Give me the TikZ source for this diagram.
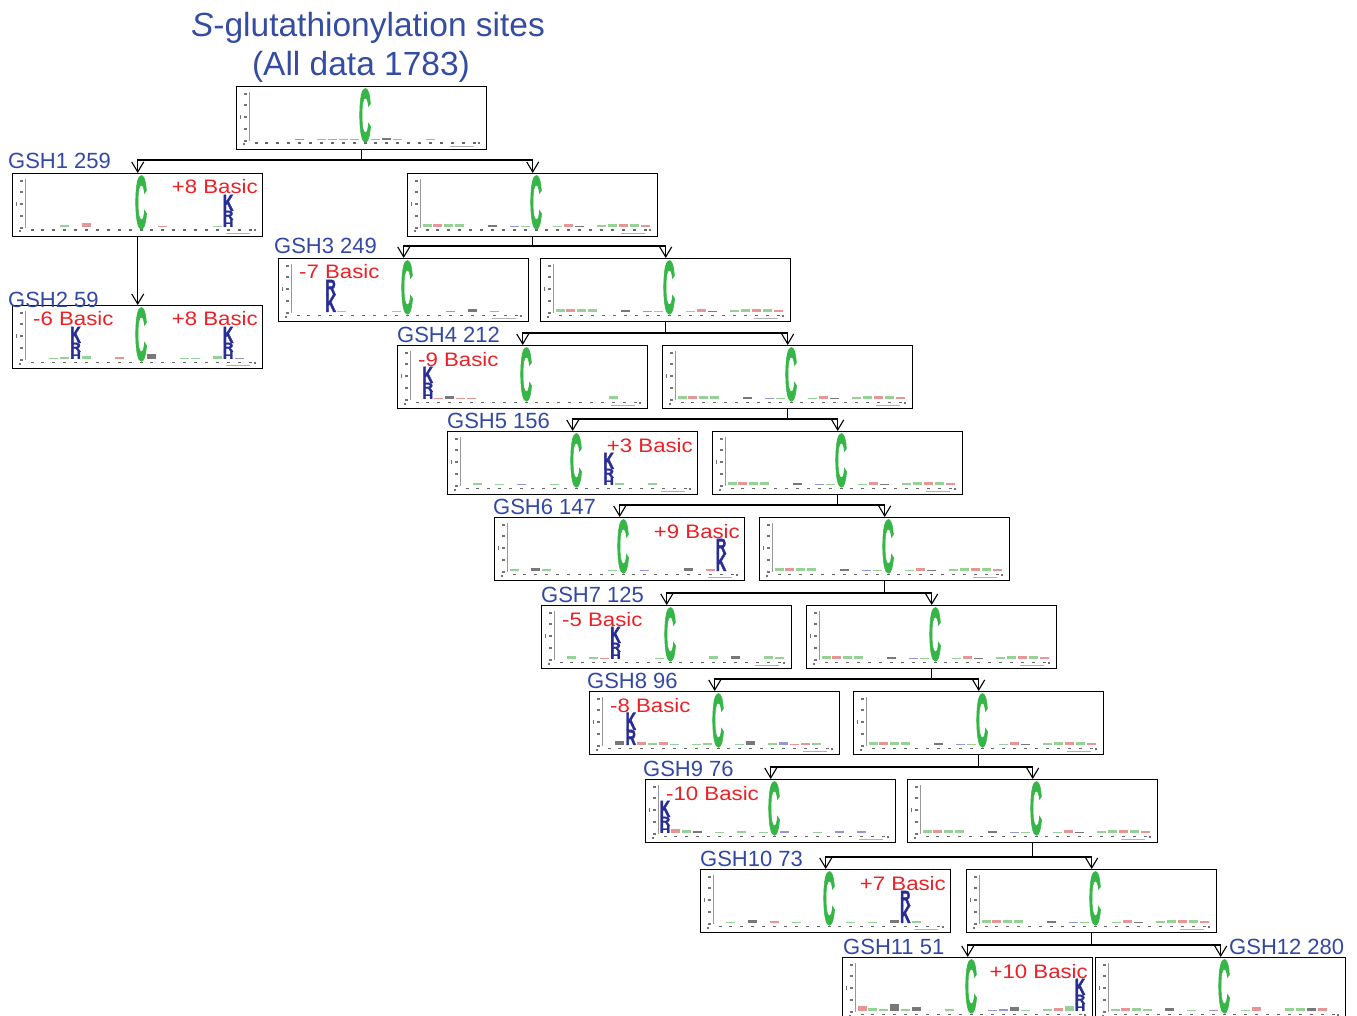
\documentclass[tikz,border=0pt]{standalone}
\usepackage{fontspec}
\setmainfont{Liberation Sans}
\newfontfamily\logofont{Liberation Sans}[FakeBold=2.5]
\usepackage{graphicx}
\usetikzlibrary{arrows.meta}

\definecolor{ttl}{RGB}{52,76,162}
\definecolor{lblue}{RGB}{50,72,165}
\definecolor{bred}{RGB}{236,32,38}
\definecolor{cgreen}{RGB}{55,182,72}
\definecolor{kblue}{RGB}{40,45,150}
\definecolor{bg}{RGB}{150,210,150}
\definecolor{br}{RGB}{230,150,150}
\definecolor{bk}{RGB}{120,120,120}
\definecolor{bb}{RGB}{150,150,210}

\tikzset{
  logobox/.style={draw=black, line width=1.4pt, minimum width=250pt, minimum height=63pt, inner sep=0pt, anchor=north west},
  conn/.style={line width=1.1pt, draw=black},
  arr/.style={conn, -{Straight Barb[length=10pt,width=12pt]}},
  grp/.style={font=\fontsize{22}{24}\selectfont, text=lblue, anchor=base west, inner sep=0pt},
  ttlfont/.style={font=\fontsize{33.5}{35}\selectfont, text=ttl, anchor=base, inner sep=0pt},
  basic/.style={font=\fontsize{19.5}{21}\selectfont, text=bred, inner sep=0pt},
  letter/.style={inner sep=0pt, anchor=south, font=\logofont\bfseries},
}

\newcommand\lgl[5]{\node[letter,text=#1] at (#3,#4) {\resizebox{10.5pt}{#5pt}{#2}};}
\newcommand\krh[1]{\pgfmathsetmacro\lgX{129+10.9*(#1)}%
  \lgl{kblue}{H}{\lgX}{54}{7}\lgl{kblue}{R}{\lgX}{47}{9}\lgl{kblue}{K}{\lgX}{38}{16}}
\newcommand\rk[1]{\pgfmathsetmacro\lgX{129+10.9*(#1)}%
  \lgl{kblue}{K}{\lgX}{54}{17}\lgl{kblue}{R}{\lgX}{37}{15}}
\newcommand\kr[1]{\pgfmathsetmacro\lgX{129+10.9*(#1)}%
  \lgl{kblue}{R}{\lgX}{54}{15}\lgl{kblue}{K}{\lgX}{39}{17}}
\newcommand\plusl[1]{\node[basic,anchor=base east] at (246,21) {\scalebox{1.14}[1]{#1}};}
\newcommand\minusl[1]{\node[basic,anchor=base west] at (21,21) {\scalebox{1.14}[1]{#1}};}
\newcommand\logobase[1]{%
  \draw[black!40,line width=0.4pt] (13,6) -- (13,55);
  \foreach \yy in {8,19,31,43,55}{\fill[black!55] (8,\yy-0.6) rectangle (10.5,\yy+0.6);}
  \fill[black!55] (3.5,29) rectangle (5,33);
  \foreach \k in {0,...,20}{\fill[black!60] ({20+10.9*\k-1.5},56.5) rectangle ++(3,1.4);}
  \fill[black!55] (6.5,57.5) rectangle ++(2,2);
  \fill[black!55] (242,56.5) rectangle ++(2,2);
  \fill[black!30] (214,60) rectangle ++(24,0.7);
  \foreach \k/\c/\h in #1{\fill[\c] ({129+10.9*\k-4.5},{54-\h}) rectangle ++(9,\h);}
  \node[letter,text=cgreen] at (129,56) {\resizebox{12pt}{52pt}{C}};
}
\def\rightblobs{-10/bg/3,-9/br/3,-8/bg/3,-7/bg/3,-4/bk/2,-2/bb/1,-1/bg/1,2/bg/1,3/br/3,4/bk/1,6/bg/2,7/bg/3,8/br/3,9/bg/3,10/br/2}

\begin{document}
\begin{tikzpicture}[x=1pt,y=-1pt]
\useasboundingbox (0,0) rectangle (1357,1016);

% title
\node[ttlfont] (title1) at (368,37) {\textit{S}-glutathionylation sites};
\node[ttlfont] (title2) at (361,76) {(All data 1783)};

% boxes
\node[logobox] (T)   at (236,86)  {};
\node[logobox] (b1)  at (12,173)  {};
\node[logobox] (r1)  at (407,173) {};
\node[logobox] (b2)  at (12,305)  {};
\node[logobox] (b3)  at (278,258) {};
\node[logobox] (r3)  at (540,258) {};
\node[logobox] (b4)  at (397,345) {};
\node[logobox] (r4)  at (662,345) {};
\node[logobox] (b5)  at (447,431) {};
\node[logobox] (r5)  at (712,431) {};
\node[logobox] (b6)  at (494,517) {};
\node[logobox] (r6)  at (759,517) {};
\node[logobox] (b7)  at (541,605) {};
\node[logobox] (r7)  at (806,605) {};
\node[logobox] (b8)  at (589,691) {};
\node[logobox] (r8)  at (853,691) {};
\node[logobox] (b9)  at (645,779) {};
\node[logobox] (r9)  at (907,779) {};
\node[logobox] (b10) at (700,869) {};
\node[logobox] (r10) at (966,869) {};
\node[logobox] (b11) at (842,957) {};
\node[logobox] (b12) at (1095,957) {};

% logo contents
\begin{scope}[shift={(T.north west)}]
  \logobase{{-6/bb/1,-4/br/1,-3/br/1,-2/br/1,-1/br/1,1/br/1,2/bk/2,3/br/1,6/br/1}}
\end{scope}
\begin{scope}[shift={(b1.north west)}]
  \logobase{{-7/bg/2,-5/br/4,2/br/1,7/bg/1}}
  \krh{8}\plusl{+8 Basic}
\end{scope}
\begin{scope}[shift={(r1.north west)}]
  \logobase{\rightblobs}
\end{scope}
\begin{scope}[shift={(b2.north west)}]
  \logobase{{-8/bg/1,-7/bg/2,-5/bg/3,-2/br/2,1/bk/5,4/bg/1,5/bg/1,7/bg/3,9/bb/1}}
  \krh{-6}\krh{8}\minusl{-6 Basic}\plusl{+8 Basic}
\end{scope}
\begin{scope}[shift={(b3.north west)}]
  \logobase{{-6/bg/1,-1/bg/1,4/bb/1,6/bk/3,8/br/1}}
  \rk{-7}\minusl{-7 Basic}
\end{scope}
\begin{scope}[shift={(r3.north west)}]
  \logobase{\rightblobs}
\end{scope}
\begin{scope}[shift={(b4.north west)}]
  \logobase{{-8/br/1,-7/bk/3,-6/br/1,-5/br/1,8/bg/3}}
  \krh{-9}\minusl{-9 Basic}
\end{scope}
\begin{scope}[shift={(r4.north west)}]
  \logobase{\rightblobs}
\end{scope}
\begin{scope}[shift={(b5.north west)}]
  \logobase{{-9/bg/2,-7/bg/1,-5/bb/1,-2/bg/1,4/bg/2,7/bg/2}}
  \krh{3}\plusl{+3 Basic}
\end{scope}
\begin{scope}[shift={(r5.north west)}]
  \logobase{\rightblobs}
\end{scope}
\begin{scope}[shift={(b6.north west)}]
  \logobase{{-10/bg/2,-8/bk/3,-7/bg/2,-1/bg/1,2/bb/1,6/bk/3,8/br/2}}
  \rk{9}\plusl{+9 Basic}
\end{scope}
\begin{scope}[shift={(r6.north west)}]
  \logobase{\rightblobs}
\end{scope}
\begin{scope}[shift={(b7.north west)}]
  \logobase{{-9/bg/3,-7/bg/2,-6/br/1,-1/bg/1,4/bg/3,6/bk/3,9/bg/3,10/bg/2}}
  \krh{-5}\minusl{-5 Basic}
\end{scope}
\begin{scope}[shift={(r7.north west)}]
  \logobase{\rightblobs}
\end{scope}
\begin{scope}[shift={(b8.north west)}]
  \logobase{{-9/bk/4,-7/br/3,-6/bg/2,-5/br/3,-4/bg/1,-2/bg/1,-1/bg/2,2/bg/1,3/bk/4,5/bg/2,6/bb/3,7/br/1,8/br/2,9/bg/2}}
  \kr{-8}\minusl{-8 Basic}
\end{scope}
\begin{scope}[shift={(r8.north west)}]
  \logobase{\rightblobs}
\end{scope}
\begin{scope}[shift={(b9.north west)}]
  \logobase{{-9/br/4,-8/bg/3,-7/bk/2,-5/bg/1,-3/bg/2,-1/bg/1,1/bb/2,4/bg/1,6/bb/2,8/bb/2}}
  \krh{-10}\minusl{-10 Basic}
\end{scope}
\begin{scope}[shift={(r9.north west)}]
  \logobase{\rightblobs}
\end{scope}
\begin{scope}[shift={(b10.north west)}]
  \logobase{{-9/bg/1,-7/bk/3,-5/br/2,-3/bg/1,2/bg/1,4/bg/1,6/bk/3,8/bg/2}}
  \rk{7}\plusl{+7 Basic}
\end{scope}
\begin{scope}[shift={(r10.north west)}]
  \logobase{\rightblobs}
\end{scope}
\begin{scope}[shift={(b11.north west)}]
  \logobase{{-10/br/5,-9/bg/3,-8/bg/2,-7/bk/7,-6/bg/2,-5/bk/4,-2/bg/2,2/bb/1,3/bb/2,4/bk/4,5/bg/1,7/bg/2,8/br/3,9/bg/5}}
  \krh{10}\plusl{+10 Basic}
\end{scope}
\begin{scope}[shift={(b12.north west)}]
  \logobase{{-10/bg/2,-9/br/3,-8/bg/3,-7/bg/2,-5/bk/3,-3/bg/1,-1/bb/1,2/bg/1,3/br/4,6/bg/3,7/bg/3,8/bk/3,9/br/3}}
\end{scope}

% connectors
\draw[conn] (T.south) -- (T.south |- 0,160) coordinate (j1);
\draw[arr] (j1) -| (b1.north);
\draw[arr] (j1) -| (r1.north);
\draw[arr] (b1.south) -- (b2.north);
\draw[conn] (r1.south) -- (r1.south |- 0,246) coordinate (j3);
\draw[arr] (j3) -| (b3.north);
\draw[arr] (j3) -| (r3.north);
\draw[conn] (r3.south) -- (r3.south |- 0,333) coordinate (j4);
\draw[arr] (j4) -| (b4.north);
\draw[arr] (j4) -| (r4.north);
\draw[conn] (r4.south) -- (r4.south |- 0,419) coordinate (j5);
\draw[arr] (j5) -| (b5.north);
\draw[arr] (j5) -| (r5.north);
\draw[conn] (r5.south) -- (r5.south |- 0,505) coordinate (j6);
\draw[arr] (j6) -| (b6.north);
\draw[arr] (j6) -| (r6.north);
\draw[conn] (r6.south) -- (r6.south |- 0,593) coordinate (j7);
\draw[arr] (j7) -| (b7.north);
\draw[arr] (j7) -| (r7.north);
\draw[conn] (r7.south) -- (r7.south |- 0,679) coordinate (j8);
\draw[arr] (j8) -| (b8.north);
\draw[arr] (j8) -| (r8.north);
\draw[conn] (r8.south) -- (r8.south |- 0,767) coordinate (j9);
\draw[arr] (j9) -| (b9.north);
\draw[arr] (j9) -| (r9.north);
\draw[conn] (r9.south) -- (r9.south |- 0,857) coordinate (j10);
\draw[arr] (j10) -| (b10.north);
\draw[arr] (j10) -| (r10.north);
\draw[conn] (r10.south) -- (r10.south |- 0,945) coordinate (j11);
\draw[arr] (j11) -| (b11.north);
\draw[arr] (j11) -| (b12.north);

% group labels
\node[grp] (l1)  at (8,169)    {GSH1 259};
\node[grp] (l2)  at (8,307)    {GSH2 59};
\node[grp] (l3)  at (274,254)  {GSH3 249};
\node[grp] (l4)  at (397,342)  {GSH4 212};
\node[grp] (l5)  at (447,428)  {GSH5 156};
\node[grp] (l6)  at (493,514)  {GSH6 147};
\node[grp] (l7)  at (541,602)  {GSH7 125};
\node[grp] (l8)  at (587,688)  {GSH8 96};
\node[grp] (l9)  at (643,776)  {GSH9 76};
\node[grp] (l10) at (700,866)  {GSH10 73};
\node[grp] (l11) at (843,954)  {GSH11 51};
\node[grp] (l12) at (1229,954) {GSH12 280};
\end{tikzpicture}
\end{document}
